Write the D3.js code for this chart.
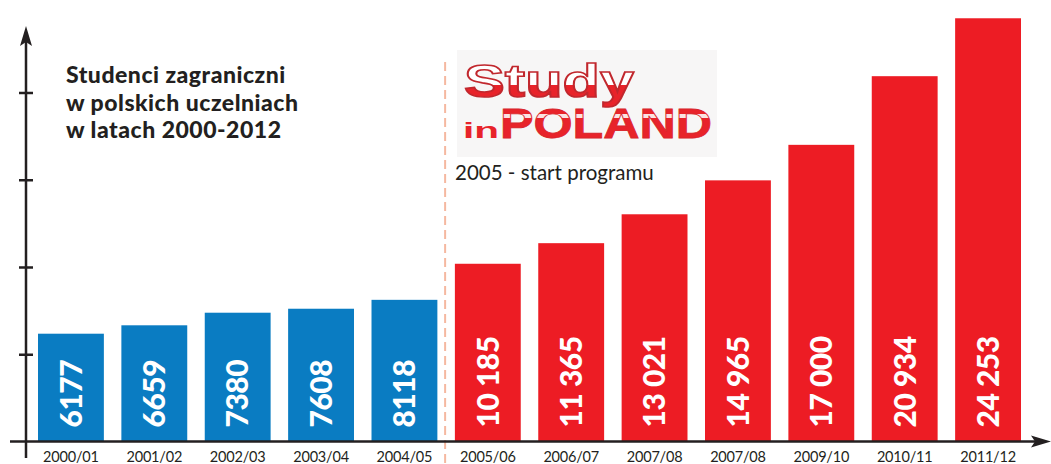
<!DOCTYPE html>
<html>
<head>
<meta charset="utf-8">
<script src="https://cdn.jsdelivr.net/npm/d3@7"></script>
<style>
  html, body { margin: 0; padding: 0; background: #fff; }
  svg { display: block; }
</style>
</head>
<body>
<div id="app"></div>
<script>
// data (the original repeats 2007/08, kept as printed)
const SEASONS = ['2000/01', '2001/02', '2002/03', '2003/04', '2004/05', '2005/06',
  '2006/07', '2007/08', '2007/08', '2009/10', '2010/11', '2011/12'];
const STUDENTS = [6177, 6659, 7380, 7608, 8118, 10185, 11365, 13021, 14965, 17000, 20934, 24253];
const VALUE_LABELS = ['6177', '6659', '7380', '7608', '8118', '10 185', '11 365', '13 021',
  '14 965', '17 000', '20 934', '24 253'];
const Y_TICKS = [5000, 10000, 15000, 20000];
const TITLE_LINES = ['Studenci zagraniczni', 'w polskich uczelniach', 'w latach 2000-2012'];
const PROGRAM_START = 5; // index of first season of "Study in Poland"

const width = 1051;
const height = 464;
const baseY = 441.5;
const ink = '#231f20';
const blue = '#0a7cc2';
const red = '#ed1c24';

const svg = d3.select('#app')
  .append('svg')
  .attr('width', width)
  .attr('height', height);

const data = SEASONS.map((s, i) => ({key: i, season: s, value: STUDENTS[i], label: VALUE_LABELS[i]}));

// scales
const x = d3.scaleBand()
  .domain(data.map(d => d.key))
  .range([38, 1021])
  .paddingInner(0.21)
  .paddingOuter(0);

const y = d3.scaleLinear()
  .domain([0, 25300])
  .range([baseY, 0]);

// dashed separator at program start
const sepX = (x(PROGRAM_START - 1) + x.bandwidth() + x(PROGRAM_START)) / 2 - 1;
svg.append('line')
  .attr('x1', sepX).attr('x2', sepX)
  .attr('y1', 62).attr('y2', height)
  .style('stroke', '#f5b8a0')
  .style('stroke-width', 2)
  .style('stroke-dasharray', '9,5');

// bars
svg.append('g')
  .selectAll('rect')
  .data(data)
  .join('rect')
  .attr('x', d => x(d.key))
  .attr('y', d => y(d.value))
  .attr('width', x.bandwidth())
  .attr('height', d => baseY - y(d.value))
  .style('fill', d => d.key < PROGRAM_START ? blue : red);

// value labels, rotated inside bars
svg.append('g')
  .selectAll('text')
  .data(data)
  .join('text')
  .attr('transform', d => `translate(${x(d.key) + x.bandwidth() / 2}, ${baseY - 14}) rotate(-90)`)
  .attr('dy', '0.36em')
  .attr('text-anchor', 'start')
  .style('font-family', 'Lato, sans-serif')
  .style('font-weight', 900)
  .style('font-size', '30px')
  .style('letter-spacing', '-0.5px')
  .style('fill', '#fff')
  .text(d => d.label);

// x category labels
svg.append('g')
  .selectAll('text')
  .data(data)
  .join('text')
  .attr('x', d => x(d.key) + x.bandwidth() / 2)
  .attr('y', 462)
  .attr('text-anchor', 'middle')
  .style('font-family', 'Lato, sans-serif')
  .style('font-size', '14.5px')
  .style('letter-spacing', '-0.2px')
  .style('fill', ink)
  .text(d => d.season);

// axes
const axisG = svg.append('g').attr('id', 'axes');

// y axis ticks, drawn by d3 axis crossing the line
axisG.append('g')
  .attr('transform', 'translate(19, 0)')
  .call(d3.axisLeft(y).tickValues(Y_TICKS).tickSize(-14).tickFormat(''))
  .call(g => g.select('.domain').remove())
  .call(g => g.selectAll('line').style('stroke', ink).style('stroke-width', 2.5));

axisG.append('line')
  .attr('x1', 26).attr('x2', 26)
  .attr('y1', 38).attr('y2', 458)
  .style('stroke', ink)
  .style('stroke-width', 2.5);
axisG.append('path')
  .attr('d', 'M26,26 L32,46 L26,42 L20,46 Z')
  .style('fill', ink);

axisG.append('line')
  .attr('x1', 10).attr('x2', 1040)
  .attr('y1', baseY).attr('y2', baseY)
  .style('stroke', ink)
  .style('stroke-width', 2.5);
axisG.append('path')
  .attr('d', `M1051,${baseY} L1031,${baseY - 6} L1035,${baseY} L1031,${baseY + 6} Z`)
  .style('fill', ink);

// title, one text per line
svg.append('g')
  .attr('id', 'title')
  .selectAll('text')
  .data(TITLE_LINES)
  .join('text')
  .attr('x', 66)
  .attr('y', (d, i) => 83 + i * 27.5)
  .style('font-family', 'Lato, sans-serif')
  .style('font-weight', 900)
  .style('font-size', '23px')
  .style('letter-spacing', '0.5px')
  .style('fill', ink)
  .text(d => d);

// Study in POLAND logo
const logo = svg.append('g').attr('id', 'logo');
const defs = svg.append('defs');
const gStudy = defs.append('linearGradient')
  .attr('id', 'study-fill')
  .attr('x1', 0).attr('x2', 0).attr('y1', 0).attr('y2', 1);
gStudy.append('stop').attr('offset', '0%').attr('stop-color', '#fff');
gStudy.append('stop').attr('offset', '58%').attr('stop-color', '#fff');
gStudy.append('stop').attr('offset', '58%').attr('stop-color', '#e8232a');
gStudy.append('stop').attr('offset', '100%').attr('stop-color', '#e8232a');

const gPoland = defs.append('linearGradient')
  .attr('id', 'poland-fill')
  .attr('x1', 0).attr('x2', 0).attr('y1', 0).attr('y2', 1);
gPoland.append('stop').attr('offset', '0%').attr('stop-color', '#e8232a');
gPoland.append('stop').attr('offset', '30%').attr('stop-color', '#e8232a');
gPoland.append('stop').attr('offset', '30%').attr('stop-color', '#fbe3e3');
gPoland.append('stop').attr('offset', '38%').attr('stop-color', '#fbe3e3');
gPoland.append('stop').attr('offset', '38%').attr('stop-color', '#e8232a');
gPoland.append('stop').attr('offset', '100%').attr('stop-color', '#e8232a');

logo.append('rect')
  .attr('x', 457).attr('y', 50)
  .attr('width', 260).attr('height', 107)
  .style('fill', '#f7f6f6');

logo.append('text')
  .attr('x', 464).attr('y', 97)
  .attr('textLength', 170)
  .attr('lengthAdjust', 'spacingAndGlyphs')
  .style('font-family', '"Liberation Sans", Arial, sans-serif')
  .style('font-weight', 700)
  .style('font-size', '47px')
  .style('fill', 'url(#study-fill)')
  .style('stroke', '#c1272d')
  .style('stroke-width', 1.6)
  .text('Study');

logo.append('text')
  .attr('x', 463).attr('y', 138)
  .attr('textLength', 36)
  .attr('lengthAdjust', 'spacingAndGlyphs')
  .style('font-family', '"Liberation Sans", Arial, sans-serif')
  .style('font-weight', 700)
  .style('font-size', '22px')
  .style('fill', '#e8232a')
  .text('in');

logo.append('text')
  .attr('x', 500).attr('y', 138)
  .attr('textLength', 212)
  .attr('lengthAdjust', 'spacingAndGlyphs')
  .style('font-family', '"Liberation Sans", Arial, sans-serif')
  .style('font-weight', 700)
  .style('font-size', '42px')
  .style('fill', 'url(#poland-fill)')
  .style('stroke', '#d9262c')
  .style('stroke-width', 0.8)
  .text('POLAND');

logo.append('text')
  .attr('x', 455).attr('y', 180)
  .style('font-family', 'Lato, sans-serif')
  .style('font-size', '20.5px')
  .style('fill', ink)
  .text('2005 - start programu');
</script>
</body>
</html>
